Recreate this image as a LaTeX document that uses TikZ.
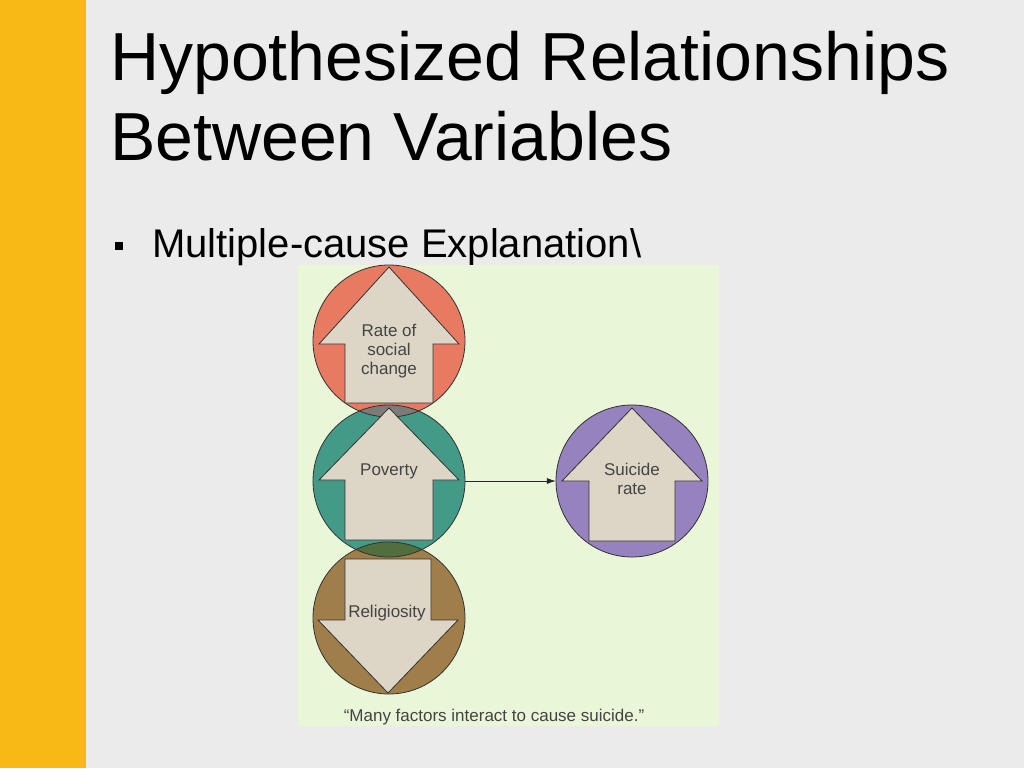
\documentclass[tikz,border=0pt]{standalone}
\usepackage{fontspec}
\setmainfont{Liberation Sans}
\usetikzlibrary{arrows.meta}
\definecolor{slidebg}{RGB}{235,235,235}
\definecolor{barY}{RGB}{248,184,22}
\definecolor{panel}{RGB}{234,246,216}
\definecolor{cRed}{RGB}{232,122,98}
\definecolor{cTeal}{RGB}{67,155,135}
\definecolor{cPurple}{RGB}{149,130,190}
\definecolor{cBrown}{RGB}{160,126,74}
\definecolor{cGray}{RGB}{126,122,120}
\definecolor{cGreen}{RGB}{80,110,62}
\definecolor{arrFill}{RGB}{221,214,199}
\definecolor{edge}{RGB}{50,50,50}
\definecolor{lbl}{RGB}{68,68,68}
\begin{document}
\begin{tikzpicture}[x=1pt,y=-1pt,
  disc/.style={circle,minimum size=152pt,inner sep=0pt},
  rim/.style={draw=edge,line width=0.8pt},
  bigarrow/.style={fill=arrFill,draw=edge,line width=0.8pt,line join=miter},
  lab/.style={text=lbl,font=\fontsize{17}{19}\selectfont,align=center,inner sep=0pt},
  link/.style={draw=black!85,line width=0.7pt,-{Latex[length=9pt,width=6pt]}}]
\useasboundingbox (0,0) rectangle (1024,768);
\fill[slidebg] (0,0) rectangle (1024,768);
\fill[barY] (0,0) rectangle (86,768);
% title
\node[anchor=base west,inner sep=0pt,font=\fontsize{68}{80}\selectfont] (t1) at (110,80) {Hypothesized Relationships};
\node[anchor=base west,inner sep=0pt,font=\fontsize{68}{80}\selectfont] (t2) at (110,160) {Between Variables};
% bullet
\fill[black] (115,242) rectangle (123,250);
\node[anchor=base west,inner sep=0pt,font=\fontsize{40}{48}\selectfont] (b1) at (152,257) {Multiple-cause Explanation\textbackslash};
% panel
\fill[panel] (298,265) rectangle (719,726);
% circles
\node[disc,fill=cRed] (rate) at (389,341) {};
\node[disc,fill=cTeal] (pov) at (389,481) {};
\node[disc,fill=cBrown] (rel) at (389,618) {};
\node[disc,fill=cPurple] (sui) at (632,481) {};
% overlaps
\begin{scope}
  \clip (rate.center) circle[radius=76pt];
  \fill[cGray] (pov.center) circle[radius=76pt];
\end{scope}
\begin{scope}
  \clip (pov.center) circle[radius=76pt];
  \fill[cGreen] (rel.center) circle[radius=76pt];
\end{scope}
\draw[rim] (rate.center) circle[radius=76pt];
\draw[rim] (pov.center) circle[radius=76pt];
\draw[rim] (rel.center) circle[radius=76pt];
\draw[rim] (sui.center) circle[radius=76pt];
% arrows
\draw[bigarrow] (389,267) -- (459,344) -- (433,344) -- (433,403) -- (345,403) -- (345,344) -- (319,344) -- cycle;
\draw[bigarrow] (389,408) -- (459,480) -- (433,480) -- (433,540) -- (345,540) -- (345,480) -- (319,480) -- cycle;
\draw[bigarrow] (632,408) -- (702,481) -- (675,481) -- (675,541) -- (589,541) -- (589,481) -- (562,481) -- cycle;
\draw[bigarrow] (388,693) -- (458,620) -- (431,620) -- (431,559) -- (345,559) -- (345,620) -- (318,620) -- cycle;
% labels
\node[lab] (lrate) at (389,351) {Rate of\\social\\change};
\node[lab,anchor=base] (lpov) at (389,475) {Poverty};
\node[lab] (lsui) at (632,479) {Suicide\\rate};
\node[lab,anchor=base] (lrel) at (387,617) {Religiosity};
% connector
\draw[link] (pov.east) -- (sui.west);
% caption
\node[lab,anchor=base] (cap) at (494,721) {``Many factors interact to cause suicide.''};
\end{tikzpicture}
\end{document}
